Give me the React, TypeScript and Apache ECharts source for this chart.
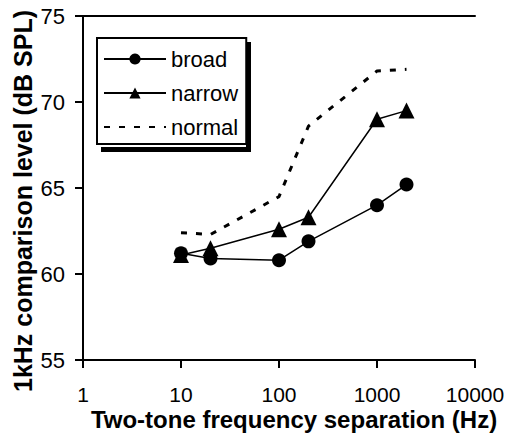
import React, { useEffect, useRef } from "react";
import * as echarts from "echarts";

const separations = [10, 20, 100, 200, 1000, 2000];
const broad = [61.2, 60.9, 60.8, 61.9, 64.0, 65.2];
const narrow = [61.1, 61.5, 62.6, 63.3, 69.0, 69.5];
const normal = [62.4, 62.3, 64.5, 68.6, 71.8, 71.9];
const seriesNames = ["broad", "narrow", "normal"];
const xTitle = "Two-tone frequency separation (Hz)";
const yTitle = "1kHz comparison level (dB SPL)";

const FONT = "'Liberation Sans', Arial, Helvetica, sans-serif";

export default function App() {
  const ref = useRef<HTMLDivElement>(null);
  useEffect(() => {
    if (!ref.current) return;
    const chart = echarts.init(ref.current, undefined, { renderer: "svg" });
    const pair = (vals: number[]) => separations.map((x, i) => [x, vals[i]]);
    chart.setOption({
      animation: false,
      backgroundColor: "#ffffff",
      textStyle: { fontFamily: FONT, color: "#000" },
      grid: { left: 83, right: 35, top: 16, bottom: 77, containLabel: false },
      legend: {
        left: 97,
        top: 38,
        orient: "vertical",
        data: [
          seriesNames[0],
          seriesNames[1],
          { name: seriesNames[2], itemStyle: { opacity: 0 } },
        ],
        itemWidth: 62,
        itemHeight: 14,
        itemGap: 12,
        padding: [10, 8, 6, 6],
        backgroundColor: "#fff",
        borderColor: "#000",
        borderWidth: 2,
        borderRadius: 0,
        textStyle: { fontFamily: FONT, fontSize: 22, color: "#000" },
      },
      xAxis: [
        {
          type: "log",
          logBase: 10,
          min: 1,
          max: 10000,
          position: "bottom",
          axisLine: { show: true, lineStyle: { color: "#000", width: 2 } },
          axisTick: { show: true, inside: false, length: 8, lineStyle: { color: "#000", width: 2 } },
          axisLabel: {
            fontFamily: FONT,
            fontSize: 21,
            color: "#000",
            margin: 24,
            formatter: (v: number) => String(Math.round(v)),
          },
          splitLine: { show: false },
          minorTick: { show: false },
        },
        {
          type: "log",
          logBase: 10,
          min: 1,
          max: 10000,
          position: "top",
          axisLine: { show: true, lineStyle: { color: "#000", width: 2 } },
          axisTick: { show: false },
          axisLabel: { show: false },
          splitLine: { show: false },
        },
      ],
      yAxis: {
        type: "value",
        min: 55,
        max: 75,
        interval: 5,
        axisLine: { show: true, lineStyle: { color: "#000", width: 2 } },
        axisTick: { show: true, inside: false, length: 8, lineStyle: { color: "#000", width: 2 } },
        axisLabel: { fontFamily: FONT, fontSize: 22, color: "#000", margin: 18 },
        splitLine: { show: false },
      },
      graphic: {
        elements: [
          {
            type: "line",
            zlevel: 1,
            z: 100,
            shape: { x1: 248.5, y1: 42, x2: 248.5, y2: 152 },
            style: { stroke: "#000", lineWidth: 5 },
          },
          {
            type: "line",
            zlevel: 1,
            z: 100,
            shape: { x1: 101, y1: 149.5, x2: 251, y2: 149.5 },
            style: { stroke: "#000", lineWidth: 5 },
          },
          {
            type: "text",
            x: 294,
            y: 419,
            style: {
              text: xTitle,
              font: `bold 24px ${FONT}`,
              fill: "#000",
              align: "center",
              verticalAlign: "middle",
            },
          },
          {
            type: "text",
            x: 23,
            y: 201,
            rotation: Math.PI / 2,
            style: {
              text: yTitle,
              font: `bold 25px ${FONT}`,
              fill: "#000",
              align: "center",
              verticalAlign: "middle",
            },
          },
        ],
      },
      series: [
        {
          name: "broad",
          type: "line",
          data: pair(broad),
          symbol: "circle",
          symbolSize: 14,
          lineStyle: { color: "#000", width: 1.5 },
          itemStyle: { color: "#000" },
          z: 3,
        },
        {
          name: "narrow",
          type: "line",
          data: pair(narrow),
          symbol: "triangle",
          symbolSize: 16,
          lineStyle: { color: "#000", width: 1.5 },
          itemStyle: { color: "#000" },
          z: 3,
        },
        {
          name: "normal",
          type: "line",
          data: pair(normal),
          symbol: "none",
          lineStyle: { color: "#000", width: 3, type: [6, 9] },
          itemStyle: { color: "#000" },
          z: 2,
        },
      ],
    });
    return () => chart.dispose();
  }, []);
  return <div ref={ref} style={{ width: 510, height: 437, position: "absolute", left: 0, top: 0 }} />;
}
